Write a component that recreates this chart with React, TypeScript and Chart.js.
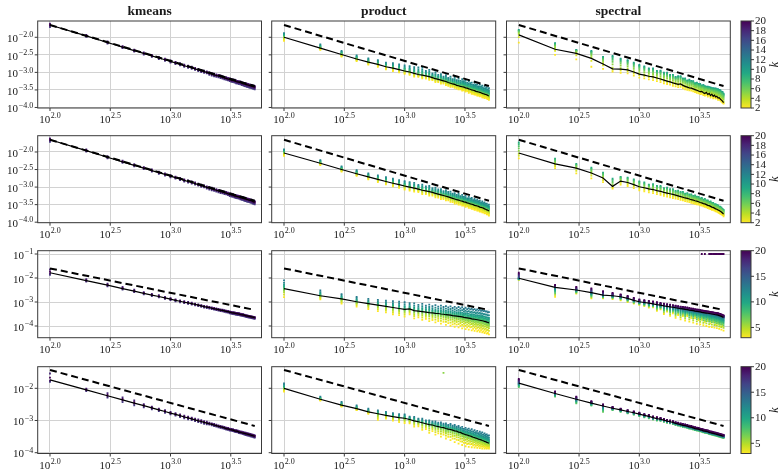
import { useEffect, useRef } from 'react';
import { Chart, registerables } from 'chart.js';

Chart.register(...registerables);

const WIDTH = 783;
const HEIGHT = 476;

// ---------------------------------------------------------------------------
// Data
// ---------------------------------------------------------------------------

// sample sizes n at which every method was evaluated
const sampleSizes = [
  100, 200, 300, 400, 500, 600, 700, 800, 900, 1000,
  1100, 1200, 1300, 1400, 1500, 1600, 1700, 1800, 1900, 2000,
  2100, 2200, 2300, 2400, 2500, 2600, 2700, 2800, 2900, 3000,
  3100, 3200, 3300, 3400, 3500, 3600, 3700, 3800, 3900, 4000,
  4100, 4200, 4300, 4400, 4500, 4600, 4700, 4800, 4900, 5000,
];

const methodNames = ['kmeans', 'product', 'spectral'];

// x ticks: exponents of 10
const xTickExponents = [2.0, 2.5, 3.0, 3.5];
const xTickLabels = ['2.0', '2.5', '3.0', '3.5'];

// y ticks per row: exponents of 10 and their printed exponents
const yTickExponents = [
  [-2.0, -2.5, -3.0, -3.5, -4.0],
  [-2.0, -2.5, -3.0, -3.5, -4.0],
  [-1, -2, -3, -4],
  [-2, -3, -4],
];
const yTickLabels = [
  ['−2.0', '−2.5', '−3.0', '−3.5', '−4.0'],
  ['−2.0', '−2.5', '−3.0', '−3.5', '−4.0'],
  ['−1', '−2', '−3', '−4'],
  ['−2', '−3', '−4'],
];

// reference rate (dashed): log10 error at n = 100 and n = 5000, per row
const guideStart = [-1.65, -1.65, -1.6, -1.43];
const guideEnd = [-3.39, -3.39, -3.33, -3.17];

// colour scale of k, per row
const kLow = [2, 2, 3, 3];
const kHigh = [20, 20, 20, 20];
const kTicks = [
  [2, 4, 6, 8, 10, 12, 14, 16, 18, 20],
  [2, 4, 6, 8, 10, 12, 14, 16, 18, 20],
  [5, 10, 15, 20],
  [5, 10, 15, 20],
];

// log10 of the mean error (black line); spread of the runs above / below it (decades)
const kmeansErr1 = [-1.65,-1.96,-2.15,-2.28,-2.38,-2.46,-2.53,-2.59,-2.64,-2.69,-2.73,-2.77,-2.81,-2.84,-2.87,-2.90,-2.93,-2.96,-2.98,-3.00,-3.03,-3.05,-3.07,-3.09,-3.10,-3.12,-3.14,-3.16,-3.17,-3.19,-3.20,-3.22,-3.23,-3.24,-3.26,-3.27,-3.28,-3.29,-3.31,-3.32,-3.33,-3.34,-3.35,-3.36,-3.37,-3.38,-3.39,-3.40,-3.41,-3.42];
const kmeansUp1 = [.04,.03,.03,.03,.03,.03,.03,.03,.03,.03,.03,.03,.03,.03,.03,.03,.03,.03,.03,.03,.03,.03,.03,.03,.03,.03,.03,.03,.03,.03,.03,.03,.03,.03,.03,.03,.03,.03,.03,.03,.03,.03,.03,.03,.03,.03,.03,.03,.03,.03];
const kmeansDown1 = [.06,.03,.03,.03,.03,.03,.03,.03,.03,.03,.03,.03,.03,.03,.03,.03,.03,.03,.03,.03,.04,.04,.04,.04,.04,.04,.04,.04,.04,.04,.05,.05,.05,.05,.05,.05,.05,.05,.05,.05,.06,.06,.06,.06,.06,.06,.06,.06,.06,.06];

const productErr1 = [-2.00,-2.31,-2.49,-2.62,-2.71,-2.77,-2.84,-2.88,-2.92,-2.96,-2.99,-3.03,-3.06,-3.08,-3.10,-3.12,-3.15,-3.18,-3.20,-3.22,-3.24,-3.26,-3.29,-3.31,-3.33,-3.34,-3.37,-3.38,-3.40,-3.41,-3.42,-3.44,-3.45,-3.47,-3.48,-3.50,-3.51,-3.52,-3.54,-3.55,-3.56,-3.57,-3.58,-3.60,-3.61,-3.62,-3.63,-3.64,-3.66,-3.67];
const productUp1 = [.12,.11,.10,.10,.11,.12,.12,.14,.15,.16,.17,.18,.20,.22,.14,.19,.12,.18,.13,.17,.12,.18,.13,.19,.14,.20,.15,.21,.16,.22,.17,.22,.15,.22,.17,.21,.15,.22,.18,.21,.16,.22,.17,.22,.16,.22,.18,.22,.17,.22];
const productDown1 = [.10,.05,.06,.06,.07,.07,.07,.08,.08,.08,.08,.09,.07,.09,.08,.09,.07,.10,.08,.10,.08,.10,.09,.10,.08,.10,.09,.10,.08,.11,.09,.11,.08,.11,.09,.11,.10,.11,.09,.11,.10,.11,.09,.11,.10,.11,.09,.11,.10,.11];

const spectralErr1 = [-1.93,-2.34,-2.46,-2.60,-2.76,-2.90,-2.91,-2.93,-2.99,-3.05,-3.08,-3.11,-3.13,-3.16,-3.19,-3.22,-3.25,-3.27,-3.30,-3.32,-3.34,-3.33,-3.37,-3.40,-3.42,-3.44,-3.45,-3.47,-3.49,-3.51,-3.53,-3.55,-3.54,-3.58,-3.60,-3.57,-3.63,-3.60,-3.66,-3.62,-3.68,-3.65,-3.70,-3.68,-3.73,-3.72,-3.76,-3.79,-3.82,-3.86];
const spectralUp1 = [.14,.17,.10,.21,.20,.37,.30,.28,.27,.26,.25,.22,.24,.20,.24,.21,.24,.20,.23,.19,.23,.22,.20,.23,.19,.23,.21,.22,.18,.22,.20,.22,.17,.22,.21,.16,.22,.18,.23,.17,.23,.19,.24,.20,.25,.22,.25,.24,.26,.25];
const spectralDown1 = [.22,.16,.17,.24,.14,.08,.10,.10,.10,.10,.09,.09,.09,.09,.09,.09,.08,.08,.08,.08,.08,.08,.08,.08,.08,.07,.07,.07,.07,.07,.07,.07,.07,.07,.06,.07,.06,.06,.06,.06,.06,.06,.05,.05,.05,.05,.04,.04,.04,.03];

const kmeansErr2 = [-1.65,-1.96,-2.15,-2.28,-2.38,-2.46,-2.53,-2.59,-2.64,-2.69,-2.73,-2.77,-2.81,-2.84,-2.87,-2.90,-2.93,-2.96,-2.98,-3.01,-3.03,-3.05,-3.07,-3.09,-3.11,-3.13,-3.14,-3.16,-3.17,-3.19,-3.21,-3.22,-3.23,-3.25,-3.26,-3.27,-3.28,-3.30,-3.31,-3.32,-3.33,-3.34,-3.35,-3.36,-3.37,-3.38,-3.39,-3.41,-3.42,-3.43];
const kmeansUp2 = [.04,.03,.03,.03,.03,.03,.03,.03,.03,.03,.03,.03,.03,.03,.03,.03,.03,.03,.03,.03,.03,.03,.03,.03,.03,.03,.03,.03,.03,.03,.03,.03,.03,.03,.03,.03,.03,.03,.03,.03,.03,.03,.03,.03,.03,.03,.03,.03,.03,.03];
const kmeansDown2 = [.06,.03,.03,.03,.03,.03,.03,.03,.03,.03,.03,.03,.03,.03,.03,.03,.03,.03,.03,.03,.04,.04,.04,.04,.04,.04,.04,.04,.04,.04,.05,.05,.05,.05,.05,.05,.05,.05,.05,.05,.06,.06,.06,.06,.06,.06,.06,.06,.06,.06];

const productErr2 = [-2.03,-2.32,-2.50,-2.62,-2.71,-2.78,-2.84,-2.89,-2.93,-2.97,-3.00,-3.03,-3.06,-3.09,-3.11,-3.13,-3.15,-3.18,-3.20,-3.22,-3.24,-3.26,-3.28,-3.30,-3.32,-3.34,-3.36,-3.37,-3.39,-3.40,-3.42,-3.43,-3.45,-3.46,-3.48,-3.49,-3.50,-3.52,-3.53,-3.54,-3.55,-3.57,-3.58,-3.59,-3.60,-3.62,-3.63,-3.65,-3.66,-3.68];
const productUp2 = [.10,.09,.09,.10,.10,.11,.12,.13,.13,.14,.14,.15,.12,.16,.13,.16,.12,.16,.13,.16,.12,.17,.14,.17,.13,.17,.14,.18,.13,.18,.14,.18,.13,.18,.15,.18,.13,.18,.14,.18,.15,.18,.13,.18,.14,.18,.15,.18,.14,.18];
const productDown2 = [.08,.05,.06,.06,.07,.08,.08,.09,.09,.10,.10,.10,.08,.11,.09,.11,.09,.11,.10,.12,.10,.12,.10,.12,.11,.13,.10,.13,.11,.13,.11,.13,.10,.13,.11,.13,.12,.13,.11,.13,.12,.13,.11,.13,.12,.13,.11,.13,.12,.13];

const spectralErr2 = [-2.03,-2.34,-2.46,-2.60,-2.74,-2.98,-2.83,-2.87,-2.93,-2.99,-3.02,-3.05,-3.07,-3.10,-3.12,-3.15,-3.17,-3.19,-3.21,-3.23,-3.25,-3.27,-3.29,-3.31,-3.32,-3.34,-3.36,-3.37,-3.39,-3.40,-3.42,-3.44,-3.45,-3.47,-3.48,-3.50,-3.52,-3.53,-3.55,-3.57,-3.58,-3.60,-3.62,-3.63,-3.65,-3.67,-3.69,-3.71,-3.74,-3.77];
const spectralUp2 = [.30,.15,.12,.15,.15,.22,.12,.14,.15,.15,.15,.12,.15,.13,.15,.12,.15,.13,.15,.12,.15,.13,.15,.12,.15,.13,.15,.12,.15,.13,.14,.12,.14,.11,.14,.12,.14,.11,.14,.12,.13,.11,.13,.12,.13,.11,.13,.12,.12,.12];
const spectralDown2 = [.15,.12,.15,.15,.12,.06,.10,.10,.10,.10,.10,.10,.10,.10,.10,.10,.10,.10,.10,.10,.09,.09,.09,.09,.09,.09,.09,.09,.09,.09,.08,.08,.08,.08,.08,.08,.08,.08,.08,.08,.07,.07,.07,.07,.07,.07,.07,.07,.06,.06];

const kmeansErr3 = [-1.78,-2.11,-2.30,-2.44,-2.55,-2.64,-2.71,-2.77,-2.83,-2.88,-2.93,-2.97,-3.01,-3.04,-3.07,-3.10,-3.13,-3.16,-3.19,-3.21,-3.23,-3.26,-3.28,-3.30,-3.32,-3.34,-3.35,-3.37,-3.39,-3.40,-3.42,-3.44,-3.45,-3.46,-3.48,-3.49,-3.50,-3.52,-3.53,-3.54,-3.55,-3.57,-3.58,-3.59,-3.60,-3.61,-3.62,-3.63,-3.64,-3.65];
const kmeansUp3 = [.14,.06,.06,.07,.06,.05,.05,.05,.04,.04,.04,.04,.04,.04,.04,.03,.03,.03,.03,.03,.03,.03,.03,.03,.03,.03,.03,.03,.03,.03,.03,.03,.03,.03,.03,.03,.03,.03,.03,.03,.02,.02,.02,.02,.02,.02,.02,.02,.02,.02];
const kmeansDown3 = [.09,.04,.05,.04,.04,.04,.04,.04,.04,.04,.04,.04,.04,.04,.04,.04,.04,.04,.04,.04,.04,.04,.04,.04,.04,.04,.04,.04,.04,.04,.05,.05,.05,.05,.05,.05,.05,.05,.05,.05,.05,.05,.05,.05,.05,.05,.05,.05,.05,.05];

const productErr3 = [-2.44,-2.74,-2.87,-2.99,-3.07,-3.13,-3.18,-3.23,-3.27,-3.31,-3.29,-3.36,-3.38,-3.40,-3.42,-3.44,-3.45,-3.47,-3.48,-3.50,-3.51,-3.53,-3.54,-3.55,-3.57,-3.58,-3.59,-3.60,-3.61,-3.62,-3.64,-3.65,-3.66,-3.67,-3.68,-3.70,-3.71,-3.72,-3.73,-3.74,-3.75,-3.76,-3.77,-3.78,-3.79,-3.81,-3.82,-3.84,-3.85,-3.87];
const productUp3 = [.34,.22,.20,.20,.20,.22,.24,.26,.28,.30,.24,.30,.26,.32,.27,.33,.28,.34,.29,.35,.30,.36,.31,.37,.32,.38,.33,.39,.34,.40,.35,.41,.36,.41,.37,.42,.38,.42,.38,.43,.39,.44,.40,.44,.41,.44,.42,.45,.42,.45];
const productDown3 = [.36,.15,.20,.20,.22,.25,.25,.28,.28,.30,.22,.32,.26,.34,.28,.36,.30,.38,.31,.40,.32,.42,.34,.44,.36,.45,.35,.46,.38,.48,.37,.48,.40,.48,.38,.48,.41,.48,.39,.48,.42,.48,.40,.48,.43,.48,.41,.48,.44,.48];

const spectralErr3 = [-2.01,-2.39,-2.50,-2.61,-2.71,-2.74,-2.78,-2.85,-2.93,-2.99,-3.02,-3.05,-3.08,-3.11,-3.13,-3.16,-3.18,-3.20,-3.22,-3.24,-3.26,-3.28,-3.29,-3.31,-3.32,-3.34,-3.35,-3.36,-3.38,-3.39,-3.40,-3.41,-3.43,-3.44,-3.45,-3.46,-3.47,-3.48,-3.49,-3.50,-3.51,-3.52,-3.53,-3.54,-3.55,-3.57,-3.58,-3.60,-3.62,-3.64];
const spectralUp3 = [.23,.10,.13,.18,.16,.12,.10,.10,.10,.10,.10,.10,.10,.10,.09,.09,.09,.09,.09,.09,.09,.09,.09,.09,.09,.09,.08,.08,.08,.08,.08,.08,.08,.08,.08,.08,.08,.08,.08,.08,.08,.08,.08,.08,.08,.08,.08,.08,.08,.08];
const spectralDown3 = [.07,.39,.15,.24,.14,.14,.15,.15,.14,.13,.15,.18,.14,.26,.18,.34,.22,.38,.25,.42,.28,.44,.30,.46,.27,.48,.32,.50,.29,.52,.35,.52,.31,.53,.38,.54,.33,.55,.40,.55,.34,.55,.42,.55,.36,.55,.44,.55,.38,.55];
// runs with k = 20 that diverged
const spectralDivergedN3 = [3300, 3500, 3800, 3900, 4000, 4100, 4200, 4300, 4400, 4500, 4600, 4700, 4800, 4900, 5000];
const spectralDivergedErr3 = [-1.0, -1.0, -1.0, -1.0, -1.0, -1.0, -1.0, -1.0, -1.0, -1.0, -1.0, -1.0, -1.0, -1.0, -1.0];

const kmeansErr4 = [-1.74,-2.05,-2.23,-2.36,-2.46,-2.54,-2.61,-2.67,-2.72,-2.77,-2.81,-2.85,-2.89,-2.92,-2.95,-2.98,-3.01,-3.03,-3.06,-3.08,-3.10,-3.12,-3.14,-3.16,-3.18,-3.20,-3.21,-3.23,-3.25,-3.26,-3.28,-3.29,-3.30,-3.32,-3.33,-3.34,-3.36,-3.37,-3.38,-3.39,-3.40,-3.41,-3.42,-3.43,-3.44,-3.45,-3.46,-3.47,-3.48,-3.49];
const kmeansUp4 = [.20,.04,.08,.08,.08,.05,.04,.04,.04,.04,.04,.04,.04,.04,.04,.04,.04,.04,.04,.04,.03,.03,.03,.03,.03,.03,.03,.03,.03,.03,.03,.03,.03,.03,.03,.03,.03,.03,.03,.03,.03,.03,.03,.03,.03,.03,.03,.03,.03,.03];
const kmeansDown4 = [.06,.04,.06,.07,.07,.05,.04,.04,.04,.04,.04,.04,.04,.04,.04,.04,.04,.04,.04,.04,.03,.03,.03,.03,.03,.03,.03,.03,.03,.03,.03,.03,.03,.03,.03,.03,.03,.03,.03,.03,.04,.04,.04,.04,.04,.04,.04,.04,.04,.04];

const productErr4 = [-2.00,-2.34,-2.52,-2.63,-2.73,-2.79,-2.84,-2.88,-2.91,-2.93,-2.97,-3.01,-3.04,-3.07,-3.10,-3.13,-3.14,-3.17,-3.19,-3.21,-3.22,-3.25,-3.27,-3.28,-3.30,-3.32,-3.33,-3.36,-3.37,-3.40,-3.42,-3.44,-3.45,-3.47,-3.48,-3.50,-3.52,-3.53,-3.55,-3.56,-3.58,-3.59,-3.60,-3.62,-3.63,-3.65,-3.66,-3.68,-3.69,-3.71];
const productUp4 = [.15,.08,.10,.10,.10,.10,.11,.11,.11,.12,.09,.12,.10,.13,.10,.13,.11,.14,.12,.15,.12,.16,.13,.17,.14,.18,.14,.19,.15,.20,.16,.21,.17,.22,.17,.23,.18,.23,.19,.24,.19,.24,.20,.25,.20,.25,.21,.25,.21,.25];
const productDown4 = [.10,.04,.05,.05,.06,.19,.10,.12,.14,.15,.12,.18,.14,.22,.17,.25,.19,.27,.21,.29,.22,.31,.24,.33,.26,.35,.27,.36,.28,.36,.27,.36,.28,.35,.26,.33,.25,.31,.24,.29,.22,.27,.21,.25,.19,.22,.18,.19,.16,.16];
// a single stray run
const productStrayN4 = [2100];
const productStrayErr4 = [-1.52];
const productStrayK4 = [6];

const spectralErr4 = [-1.84,-2.16,-2.34,-2.46,-2.55,-2.62,-2.67,-2.72,-2.76,-2.80,-2.84,-2.87,-2.91,-2.94,-2.96,-2.99,-3.02,-3.04,-3.06,-3.09,-3.11,-3.13,-3.15,-3.16,-3.18,-3.20,-3.21,-3.23,-3.25,-3.26,-3.27,-3.29,-3.30,-3.32,-3.33,-3.34,-3.35,-3.37,-3.38,-3.39,-3.40,-3.41,-3.42,-3.43,-3.44,-3.45,-3.46,-3.47,-3.48,-3.49];
const spectralUp4 = [.13,.06,.08,.06,.05,.04,.04,.04,.04,.04,.04,.04,.04,.04,.04,.04,.04,.04,.04,.04,.04,.04,.04,.04,.04,.04,.04,.04,.04,.04,.04,.04,.04,.04,.04,.04,.04,.04,.04,.04,.04,.04,.04,.04,.04,.04,.04,.04,.04,.04];
const spectralDown4 = [.12,.10,.13,.08,.18,.06,.06,.06,.06,.06,.06,.06,.06,.06,.05,.05,.05,.05,.05,.05,.05,.05,.05,.05,.05,.05,.05,.05,.05,.05,.05,.05,.05,.05,.05,.05,.05,.05,.05,.05,.05,.05,.05,.05,.05,.05,.05,.05,.05,.05];

// values of k that were run, and where each k sits inside the spread (-1 = lowest, 1 = highest)
const kmeansK = [17, 18, 19, 20];
const kmeansPos = [-1, 1, -0.35, 0.35];
const productK12 = [2, 3, 4, 5, 6, 7, 8, 9, 10, 11, 12];
const productPos12 = [-1, -0.65, -0.35, -0.15, 0, 0.1, 0.22, 0.36, 0.52, 0.72, 1];
const productK34 = [3, 4, 5, 6, 7, 8, 9, 10, 11, 12, 13];
const productPos34 = [-1, -0.7, -0.45, -0.25, -0.1, 0, 0.12, 0.28, 0.45, 0.7, 1];
const spectralK1 = [2, 3, 4, 5, 6, 7, 8, 9, 10];
const spectralPos1 = [-1, -0.3, 0.1, 0.35, 0.55, 0.7, 0.82, 0.92, 1];
const spectralK2 = [2, 3, 4, 5, 6, 7, 8, 9];
const spectralPos2 = [-1, -0.5, -0.1, 0.2, 0.45, 0.65, 0.85, 1];
const spectralK3 = [3, 5, 7, 8, 9, 10, 11, 12, 13, 14, 15, 16, 17, 18, 19, 20];
const spectralPos3 = [-1, -0.8, -0.62, -0.48, -0.36, -0.26, -0.18, -0.1, -0.04, 0.05, 0.15, 0.3, 0.45, 0.6, 0.8, 1];
const spectralK4 = [7, 8, 9, 10, 11, 12, 13, 14, 15, 16, 17, 18, 19, 20];
const spectralPos4 = [-1, -0.8, -0.6, -0.45, -0.3, -0.2, -0.1, 0, 0.15, 0.3, 0.45, 0.6, 0.8, 1];

type Extra = { n: number[]; err: number[]; k: number[] };
type PanelData = {
  err: number[]; up: number[]; down: number[]; ks: number[]; pos: number[];
  largeKOnTop: boolean; extra?: Extra;
};

const panels: PanelData[][] = [
  [
    { err: kmeansErr1, up: kmeansUp1, down: kmeansDown1, ks: kmeansK, pos: kmeansPos, largeKOnTop: true },
    { err: productErr1, up: productUp1, down: productDown1, ks: productK12, pos: productPos12, largeKOnTop: false },
    { err: spectralErr1, up: spectralUp1, down: spectralDown1, ks: spectralK1, pos: spectralPos1, largeKOnTop: false },
  ],
  [
    { err: kmeansErr2, up: kmeansUp2, down: kmeansDown2, ks: kmeansK, pos: kmeansPos, largeKOnTop: true },
    { err: productErr2, up: productUp2, down: productDown2, ks: productK12, pos: productPos12, largeKOnTop: false },
    { err: spectralErr2, up: spectralUp2, down: spectralDown2, ks: spectralK2, pos: spectralPos2, largeKOnTop: false },
  ],
  [
    { err: kmeansErr3, up: kmeansUp3, down: kmeansDown3, ks: kmeansK, pos: kmeansPos, largeKOnTop: true },
    { err: productErr3, up: productUp3, down: productDown3, ks: productK34, pos: productPos34, largeKOnTop: false },
    {
      err: spectralErr3, up: spectralUp3, down: spectralDown3, ks: spectralK3, pos: spectralPos3, largeKOnTop: true,
      extra: { n: spectralDivergedN3, err: spectralDivergedErr3, k: spectralDivergedN3.map(() => 20) },
    },
  ],
  [
    { err: kmeansErr4, up: kmeansUp4, down: kmeansDown4, ks: kmeansK, pos: kmeansPos, largeKOnTop: true },
    {
      err: productErr4, up: productUp4, down: productDown4, ks: productK34, pos: productPos34, largeKOnTop: false,
      extra: { n: productStrayN4, err: productStrayErr4, k: productStrayK4 },
    },
    { err: spectralErr4, up: spectralUp4, down: spectralDown4, ks: spectralK4, pos: spectralPos4, largeKOnTop: true },
  ],
];

// ---------------------------------------------------------------------------
// Layout and style
// ---------------------------------------------------------------------------

const COL_LEFT = [37.7, 271.7, 506.5];
const COL_RIGHT = [261.5, 495.7, 730.3];
const ROW_TOP = [21, 135.7, 250.7, 366.7];
const ROW_BOTTOM = [108, 222.7, 337.7, 453.5];
const CBAR_LEFT = 741;
const CBAR_RIGHT = 751;

// visible decades of each axis
const X_RANGE = [1.898, 3.755];
const Y_RANGE = [
  [-4.015, -1.536],
  [-4.015, -1.536],
  [-4.4875, -0.8625],
  [-4.025, -1.329],
];

const SERIF = '"Liberation Serif", "DejaVu Serif", serif';
const GRID = '#d2d2d2';
const FRAME = '#3a3a3a';
const TEXT = '#1a1a1a';
const MARKER = 1.3;

const VIRIDIS = [
  [68, 1, 84], [72, 36, 117], [65, 68, 135], [53, 95, 141], [42, 120, 142], [33, 145, 140],
  [34, 168, 132], [68, 191, 112], [122, 209, 81], [189, 223, 38], [253, 231, 37],
];

function viridis(t: number): string {
  const c = Math.max(0, Math.min(1, t)) * 10;
  const i = Math.min(9, Math.floor(c));
  const f = c - i;
  const a = VIRIDIS[i];
  const b = VIRIDIS[i + 1];
  const m = (j: number) => Math.round(a[j] + (b[j] - a[j]) * f);
  return `rgb(${m(0)},${m(1)},${m(2)})`;
}

// reversed viridis: small k is yellow, large k is purple
function kColor(k: number, row: number): string {
  return viridis(1 - (k - kLow[row]) / (kHigh[row] - kLow[row]));
}

function drawPower(ctx: CanvasRenderingContext2D, exp: string, x: number, baseline: number, align: 'center' | 'right') {
  const baseFont = `11px ${SERIF}`;
  const expFont = `8px ${SERIF}`;
  ctx.font = baseFont;
  const wb = ctx.measureText('10').width;
  ctx.font = expFont;
  const we = ctx.measureText(exp).width;
  const total = wb + 0.6 + we;
  const start = align === 'center' ? x - total / 2 : x - total;
  ctx.textAlign = 'left';
  ctx.textBaseline = 'alphabetic';
  ctx.font = baseFont;
  ctx.fillText('10', start, baseline);
  ctx.font = expFont;
  ctx.fillText(exp, start + wb + 0.6, baseline - 4.6);
}

function panelDecor(row: number, col: number) {
  return {
    id: `decor-${row}-${col}`,
    afterDraw(chart: any) {
      const { ctx, chartArea: a } = chart;
      const xs = chart.scales.x;
      const ys = chart.scales.y;
      ctx.save();
      ctx.strokeStyle = FRAME;
      ctx.lineWidth = 1;
      ctx.strokeRect(a.left, a.top, a.right - a.left, a.bottom - a.top);
      ctx.fillStyle = TEXT;
      // x ticks and labels
      xTickExponents.forEach((e, i) => {
        const px = xs.getPixelForValue(10 ** e);
        ctx.beginPath();
        ctx.moveTo(px, a.bottom);
        ctx.lineTo(px, a.bottom + 3);
        ctx.stroke();
        drawPower(ctx, xTickLabels[i], px, a.bottom + 15, 'center');
      });
      // y ticks; labels on the first column only
      yTickExponents[row].forEach((e, i) => {
        const py = ys.getPixelForValue(10 ** e);
        ctx.beginPath();
        ctx.moveTo(a.left, py);
        ctx.lineTo(a.left - 3, py);
        ctx.stroke();
        if (col === 0) drawPower(ctx, yTickLabels[row][i], a.left - 4.5, py + 4.8, 'right');
      });
      if (row === 0) {
        ctx.font = `bold 13.5px ${SERIF}`;
        ctx.textAlign = 'center';
        ctx.textBaseline = 'alphabetic';
        ctx.fillText(methodNames[col], (a.left + a.right) / 2, 15);
      }
      ctx.restore();
    },
  };
}

function colorbarDecor(row: number) {
  return {
    id: `cbar-${row}`,
    afterDraw(chart: any) {
      const { ctx, chartArea: a } = chart;
      const ys = chart.scales.y;
      ctx.save();
      const g = ctx.createLinearGradient(0, a.top, 0, a.bottom);
      VIRIDIS.forEach((c, i) => g.addColorStop(i / 10, `rgb(${c[0]},${c[1]},${c[2]})`));
      ctx.fillStyle = g;
      ctx.fillRect(a.left, a.top, a.right - a.left, a.bottom - a.top);
      ctx.strokeStyle = FRAME;
      ctx.lineWidth = 1;
      ctx.strokeRect(a.left, a.top, a.right - a.left, a.bottom - a.top);
      ctx.fillStyle = TEXT;
      ctx.font = `11px ${SERIF}`;
      ctx.textAlign = 'left';
      ctx.textBaseline = 'middle';
      kTicks[row].forEach((k) => {
        const py = ys.getPixelForValue(k);
        ctx.beginPath();
        ctx.moveTo(a.right, py);
        ctx.lineTo(a.right + 3, py);
        ctx.stroke();
        ctx.fillText(String(k), a.right + 4, py + 0.5);
      });
      ctx.translate(775, (a.top + a.bottom) / 2);
      ctx.rotate(-Math.PI / 2);
      ctx.font = `italic 12px ${SERIF}`;
      ctx.textAlign = 'center';
      ctx.fillText('k', 0, 0);
      ctx.restore();
    },
  };
}

function panelConfig(row: number, col: number): any {
  const p = panels[row][col];
  const stackOrder = (k: number) => (p.largeKOnTop ? 100 - k : 100 + k);
  const datasets: any[] = [];
  datasets.push({
    data: sampleSizes.map((n, i) => ({ x: n, y: 10 ** p.err[i] })),
    showLine: true, borderColor: '#000', borderWidth: 1.2, pointRadius: 0, order: 0,
  });
  datasets.push({
    data: [
      { x: sampleSizes[0], y: 10 ** guideStart[row] },
      { x: sampleSizes[sampleSizes.length - 1], y: 10 ** guideEnd[row] },
    ],
    showLine: true, borderColor: '#000', borderWidth: 2, borderDash: [7, 4], pointRadius: 0, order: 1,
  });
  p.ks.forEach((k, j) => {
    const s = p.pos[j];
    datasets.push({
      data: sampleSizes.map((n, i) => ({ x: n, y: 10 ** (p.err[i] + (s >= 0 ? s * p.up[i] : s * p.down[i])) })),
      backgroundColor: kColor(k, row), pointStyle: 'rect', pointRadius: MARKER, borderWidth: 0,
      order: stackOrder(k),
    });
  });
  if (p.extra) {
    const ex = p.extra;
    ex.n.forEach((n, i) => {
      datasets.push({
        data: [{ x: n, y: 10 ** ex.err[i] }],
        backgroundColor: kColor(ex.k[i], row), pointStyle: 'rect', pointRadius: MARKER, borderWidth: 0,
        order: stackOrder(ex.k[i]),
      });
    });
  }
  const yt = yTickExponents[row];
  return {
    type: 'scatter',
    data: { datasets },
    options: {
      responsive: false,
      animation: false,
      devicePixelRatio: 1,
      events: [],
      layout: {
        padding: {
          left: COL_LEFT[col], right: WIDTH - COL_RIGHT[col],
          top: ROW_TOP[row], bottom: HEIGHT - ROW_BOTTOM[row],
        },
      },
      plugins: { legend: { display: false }, tooltip: { enabled: false }, title: { display: false } },
      scales: {
        x: {
          type: 'logarithmic', min: 10 ** X_RANGE[0], max: 10 ** X_RANGE[1],
          afterBuildTicks: (s: any) => { s.ticks = xTickExponents.map((e) => ({ value: 10 ** e })); },
          ticks: { display: false },
          grid: { color: GRID, lineWidth: 1, drawTicks: false },
          border: { display: false },
        },
        y: {
          type: 'logarithmic', min: 10 ** Y_RANGE[row][0], max: 10 ** Y_RANGE[row][1],
          afterBuildTicks: (s: any) => { s.ticks = yt.map((e) => ({ value: 10 ** e })); },
          ticks: { display: false },
          grid: { color: GRID, lineWidth: 1, drawTicks: false },
          border: { display: false },
        },
      },
    },
    plugins: [panelDecor(row, col)],
  };
}

function colorbarConfig(row: number): any {
  return {
    type: 'scatter',
    data: { datasets: [] },
    options: {
      responsive: false,
      animation: false,
      devicePixelRatio: 1,
      events: [],
      layout: {
        padding: {
          left: CBAR_LEFT, right: WIDTH - CBAR_RIGHT,
          top: ROW_TOP[row], bottom: HEIGHT - ROW_BOTTOM[row],
        },
      },
      plugins: { legend: { display: false }, tooltip: { enabled: false } },
      scales: {
        x: { display: false, min: 0, max: 1 },
        y: {
          type: 'linear', min: kLow[row], max: kHigh[row],
          afterBuildTicks: (s: any) => { s.ticks = kTicks[row].map((v) => ({ value: v })); },
          ticks: { display: false },
          grid: { display: false, drawTicks: false },
          border: { display: false },
        },
      },
    },
    plugins: [colorbarDecor(row)],
  };
}

const layers: (() => any)[] = [];
for (let r = 0; r < 4; r++) {
  for (let c = 0; c < 3; c++) layers.push(() => panelConfig(r, c));
  layers.push(() => colorbarConfig(r));
}

function ChartLayer({ make }: { make: () => any }) {
  const ref = useRef<HTMLCanvasElement>(null);
  useEffect(() => {
    const chart = new Chart(ref.current as HTMLCanvasElement, make());
    return () => chart.destroy();
  }, [make]);
  return (
    <canvas
      ref={ref}
      width={WIDTH}
      height={HEIGHT}
      style={{ position: 'absolute', left: 0, top: 0, width: WIDTH, height: HEIGHT }}
    />
  );
}

export default function App() {
  return (
    <div style={{ position: 'fixed', left: 0, top: 0, width: WIDTH, height: HEIGHT, background: '#fff', overflow: 'hidden' }}>
      {layers.map((make, i) => (
        <ChartLayer key={i} make={make} />
      ))}
    </div>
  );
}
